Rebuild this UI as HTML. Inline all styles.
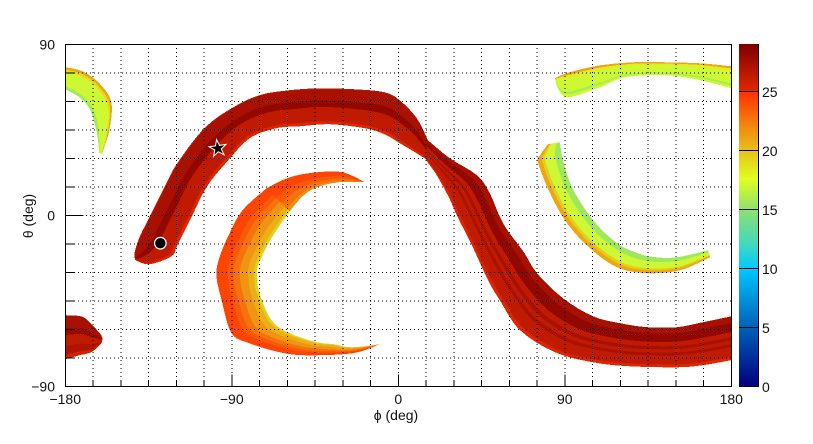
<!DOCTYPE html>
<html lang="en">
<head>
<meta charset="utf-8">
<title>Sky map in phi and theta</title>
<style>
html,body{margin:0;padding:0;background:#fff;}
svg{display:block;font-family:"Liberation Sans",sans-serif;}
text{font-size:14px;fill:#111;}
</style>
</head>
<body>
<svg id="chart" xmlns="http://www.w3.org/2000/svg" width="813" height="444" viewBox="0 0 813 444">
  <rect x="0" y="0" width="813" height="444" fill="#fff"/>
  <defs><clipPath id="plot-clip"><rect x="65" y="44" width="667" height="343"/></clipPath></defs>
  <g id="ribbons" clip-path="url(#plot-clip)" shape-rendering="crispEdges"></g>
  <g id="grid" shape-rendering="crispEdges"></g>
  <g id="markers"></g>
  <g id="axes" shape-rendering="crispEdges"></g>
  <g id="tick-labels"></g>
  <g id="colorbar"></g>
  <text x="396" y="420" text-anchor="middle">ϕ (deg)</text>
  <text transform="translate(33 216) rotate(-90)" text-anchor="middle">θ (deg)</text>
</svg>
<script>
// ---- axis tick values ----
const phiTicks = [-180,-165,-150,-135,-120,-105,-90,-75,-60,-45,-30,-15,0,15,30,45,60,75,90,105,120,135,150,165,180];
const thetaTicks = [-90,-75,-60,-45,-30,-15,0,15,30,45,60,75,90];
const phiLabels = [-180,-90,0,90,180];
const thetaLabels = [-90,0,90];
const scaleLabels = [0,5,10,15,20,25];
const scaleMax = 29;

// ---- colour palette: value stops and colours ----
const paletteValues = [0,5,10,12,15,17.6,20,22,24.99,25,29];
const paletteColors = ['#00007f','#0060b8','#00c8ff','#40d8c0','#8ee070','#e0ff20','#e6c018','#f28a10','#ff3000','#e02800','#7f0000'];

// ---- markers [phi, theta] ----
const circleMarker = [-128.6,-14.7];
const starMarker = [-97.5,35.2];

// ---- bright arc, left half: edges as [phi, theta] and bands across the width ----
const arcUpper = [[-142.7,-21.6],[-142.1,-17.9],[-139.4,-10.5],[-134.5,-1.1],[-126.4,14.7],[-119.4,27.4],[-104.8,45.8],[-90.1,56.3],[-75,63.2],[-58.7,65.8],[-42.5,66.8],[-23.5,66.3],[-7.3,64.7],[0.8,60.5],[10,51.1],[16,39.5]];
const arcLower = [[-142.1,-23.7],[-134.5,-25.8],[-122.6,-21.6],[-119.4,-15.8],[-111.8,-1.1],[-103.7,14.7],[-92.8,27.9],[-80.4,40.5],[-65.8,45.8],[-53.3,46.8],[-37.1,47.9],[-18.1,45.8],[-7.3,42.6],[0.8,37.9],[7.3,34.2],[14.3,30]];
const arcBandStarts = [0,0.04,0.33,0.52,0.92];
const arcBandValues = [26.9,27.3,28.2,26.3,25.1];

// ---- bright arc, right half ----
const tailUpper = [[16,39.5],[27.9,30],[42.5,21.1],[49.5,11.6],[56.6,-4.2],[67.9,-19.5],[75,-30.5],[89.1,-43.7],[105.3,-53.2],[119.9,-56.8],[134.5,-58.9],[150.8,-58.9],[164.8,-56.3],[180,-53.2]];
const tailLower = [[14.3,30],[20.8,21.1],[27.3,9.5],[32.2,-1.1],[40.3,-16.8],[48.5,-34.2],[54.9,-44.7],[65.8,-60.5],[84.7,-72.1],[105.3,-77.4],[125.3,-79.5],[150.8,-80],[164.8,-78.9],[180,-76.3]];
const tailBandStarts = [0,0.15,0.36,0.47,0.55,0.63,0.7,0.93];
const tailBandValues = [27.3,28.2,26.3,27.3,26.3,27.3,26.3,25.1];

// ---- wrapped tail at the left edge ----
const wrapUpper = [[-180,-52.6],[-170.8,-53.4],[-165.4,-57.8],[-160.5,-63.2],[-160,-65.8]];
const wrapLower = [[-180,-75.8],[-172.4,-73.7],[-165.9,-72.1],[-161,-67.9],[-160,-65.8]];
const wrapBandStarts = [0,0.3,0.45,0.7,0.9];
const wrapBandValues = [27.3,28,26.3,27,25.6];

// ---- central crescent, upper part ----
const crescentTopOuter = [[-18.1,17.4],[-30,22.6],[-44.1,22.6],[-58.7,20],[-71.2,14.2]];
const crescentTopInner = [[-18.1,17.4],[-31.7,17.4],[-44.1,14.7],[-51.7,10],[-58.7,2.1]];
const crescentTopBandStarts = [0,0.4,0.65,0.88];
const crescentTopBandValues = [24.3,23.6,22.8,21.8];

// ---- central crescent, lower part ----
const crescentOuter = [[-71.2,14.2],[-84.2,2.6],[-91.2,-9.5],[-96.6,-22.1],[-98.3,-31.6],[-95.5,-44.7],[-90.1,-62.1],[-80.4,-67.4],[-64.2,-72.1],[-49.5,-73.7],[-24.6,-72.6],[-10,-67.9]];
const crescentInner = [[-58.7,2.1],[-66.9,-9.5],[-71.2,-16.8],[-76.1,-27.4],[-76.1,-34.2],[-75,-41.1],[-68.5,-55.3],[-58.7,-62.1],[-44.1,-66.8],[-34.4,-67.9],[-25.2,-69.5],[-10,-67.9]];
const crescentBandStarts = [0,0.28,0.42,0.58,0.78,0.93];
const crescentBandValues = [24.3,23.6,22.8,21.6,20.6,19.3];

// ---- upper right arc ----
const northUpper = [[84.7,72.1],[92.8,75.3],[109.1,78.9],[126.9,80.5],[145.4,80.5],[163.2,80],[180,78.4]];
const northLower = [[85.3,68.9],[91.2,62.1],[109.1,67.4],[122.6,72.6],[144.3,73.7],[163.2,71.1],[180,66.8]];
const northBandStarts = [0,0.1,0.22,0.78,0.88];
const northBandValues = [21,18.3,17,15.9,17];

// ---- right crescent ----
const hookOuter = [[80.9,37.4],[76.6,31.6],[75.5,27.9],[82,11.6],[91.2,-4.2],[103.7,-17.4],[118.3,-27.4],[134.5,-30.5],[152.4,-28.9],[168.6,-22.1]];
const hookInner = [[87.4,38.4],[88,34.2],[89.1,28.9],[93.9,14.7],[105.3,-2.6],[118.3,-14.7],[129.7,-20],[138.9,-22.1],[150.8,-22.1],[167.5,-18.4]];
const hookBandStarts = [0,0.18,0.3,0.72];
const hookBandValues = [20.9,19.5,17,15.6];

// ---- wrapped arc at upper left ----
const wrapNorthUpper = [[-180,77.9],[-170.8,75.8],[-161.6,69.5],[-155.1,59.5],[-156.2,44.7],[-160,32.6]];
const wrapNorthLower = [[-180,66.3],[-172.4,62.1],[-167,56.3],[-164.3,48.9],[-162.7,42.1],[-161.6,32.6]];
const wrapNorthBandStarts = [0,0.1,0.2,0.85];
const wrapNorthBandValues = [21,19,17,15.8];

// ---- scales ----
const xScale = phi => 398.25 + phi * 1.85;
const yScale = theta => 215.25 - theta * 1.9;
const scaleY = v => 386.5 - v * (342 / scaleMax);
const NS = 'http://www.w3.org/2000/svg';

function hexToRgb(h){return [1,3,5].map(i=>parseInt(h.substr(i,2),16));}
function colorFor(v){
  let i = 0;
  while(i < paletteValues.length-2 && v > paletteValues[i+1]) i++;
  const a = paletteValues[i], b = paletteValues[i+1];
  const t = Math.max(0,Math.min(1,(v-a)/(b-a)));
  const c0 = hexToRgb(paletteColors[i]), c1 = hexToRgb(paletteColors[i+1]);
  return 'rgb('+c0.map((c,k)=>Math.round(c+(c1[k]-c)*t)).join(',')+')';
}
function make(tag, attrs, parent){
  const el = document.createElementNS(NS, tag);
  for(const k in attrs) el.setAttribute(k, attrs[k]);
  parent.appendChild(el);
  return el;
}
function curve(pts){
  let d = '';
  for(let i=0;i<pts.length-1;i++){
    const p0=pts[Math.max(0,i-1)],p1=pts[i],p2=pts[i+1],p3=pts[Math.min(pts.length-1,i+2)];
    const c1=[p1[0]+(p2[0]-p0[0])/6,p1[1]+(p2[1]-p0[1])/6];
    const c2=[p2[0]-(p3[0]-p1[0])/6,p2[1]-(p3[1]-p1[1])/6];
    d+=' C'+c1[0].toFixed(1)+' '+c1[1].toFixed(1)+' '+c2[0].toFixed(1)+' '+c2[1].toFixed(1)+' '+p2[0].toFixed(1)+' '+p2[1].toFixed(1);
  }
  return d;
}
function drawRibbon(name, upper, lower, starts, values){
  const g = document.getElementById('ribbons');
  const lowerPx = lower.map(p=>[xScale(p[0]),yScale(p[1])]);
  starts.forEach((f,i)=>{
    const edge = upper.map((p,k)=>[xScale(p[0])+(lowerPx[k][0]-xScale(p[0]))*f, yScale(p[1])+(lowerPx[k][1]-yScale(p[1]))*f]);
    const back = lowerPx.slice().reverse();
    const d = 'M'+edge[0][0].toFixed(1)+' '+edge[0][1].toFixed(1)+curve(edge)+' L'+back[0][0].toFixed(1)+' '+back[0][1].toFixed(1)+curve(back)+' Z';
    const el = make('path',{d:d,fill:colorFor(values[i])},g);
    
    
  });
}
drawRibbon('arc-left', arcUpper, arcLower, arcBandStarts, arcBandValues);
drawRibbon('arc-right', tailUpper, tailLower, tailBandStarts, tailBandValues);
drawRibbon('arc-wrapped-tail', wrapUpper, wrapLower, wrapBandStarts, wrapBandValues);
drawRibbon('central-crescent-top', crescentTopOuter, crescentTopInner, crescentTopBandStarts, crescentTopBandValues);
drawRibbon('central-crescent', crescentOuter, crescentInner, crescentBandStarts, crescentBandValues);
drawRibbon('upper-right-arc', northUpper, northLower, northBandStarts, northBandValues);
drawRibbon('right-crescent', hookOuter, hookInner, hookBandStarts, hookBandValues);
drawRibbon('upper-left-arc', wrapNorthUpper, wrapNorthLower, wrapNorthBandStarts, wrapNorthBandValues);

// grid
const gridG = document.getElementById('grid');
phiTicks.slice(1,-1).forEach(p=>{
  const el = make('line',{x1:xScale(p),x2:xScale(p),y1:44,y2:386,stroke:'#000','stroke-width':1,'stroke-dasharray':'1 3'},gridG);
  
  
});
thetaTicks.slice(1,-1).forEach(t=>{
  const el = make('line',{x1:66,x2:731,y1:yScale(t),y2:yScale(t),stroke:'#000','stroke-width':1,'stroke-dasharray':'1 3'},gridG);
  
  
});

// markers
const markG = document.getElementById('markers');
const circleEl = make('circle',{cx:xScale(circleMarker[0]),cy:yScale(circleMarker[1]),r:5.8,fill:'#000',stroke:'#fff','stroke-width':1.2},markG);


const starPts = [];
for(let i=0;i<10;i++){
  const r = i%2 ? 3.4 : 9;
  const a = (i*36-8-90)*Math.PI/180;
  starPts.push((xScale(starMarker[0])+r*Math.cos(a)).toFixed(1)+','+(yScale(starMarker[1])+r*Math.sin(a)).toFixed(1));
}
const starEl = make('polygon',{points:starPts.join(' '),fill:'#000',stroke:'#fff','stroke-width':1},markG);



// axes, frame, ticks
const axG = document.getElementById('axes');
const frame = make('rect',{x:65.5,y:44.5,width:666,height:342,fill:'none',stroke:'#000','stroke-width':1},axG);


phiTicks.forEach(p=>{
  const len = phiLabels.includes(p) ? 12 : 6;
  const el = make('line',{x1:xScale(p),x2:xScale(p),y1:386.5,y2:386.5-len,stroke:'#000'},axG);
  
  
});
thetaTicks.forEach(t=>{
  const len = thetaLabels.includes(t) ? 18 : 9;
  const el = make('line',{x1:65.5,x2:65.5+len,y1:yScale(t),y2:yScale(t),stroke:'#000'},axG);
  
  
});

// tick labels
const fmt = v => String(v).replace('-','\u2212');
const labG = document.getElementById('tick-labels');
phiLabels.forEach(p=>{
  const el = make('text',{x:xScale(p),y:404,'text-anchor':'middle'},labG);
  el.textContent = fmt(p);
  
  
});
thetaLabels.forEach(t=>{
  const el = make('text',{x:55,y:yScale(t)+5,'text-anchor':'end'},labG);
  el.textContent = fmt(t);
  
  
});

// colour bar
const cbG = document.getElementById('colorbar');
for(let v=0;v<scaleMax;v+=0.1){
  const el = make('rect',{x:739,y:(scaleY(v+0.1)-0.3).toFixed(2),width:20,height:(scaleY(v)-scaleY(v+0.1)+0.3).toFixed(2),fill:colorFor(v+0.05),'shape-rendering':'crispEdges'},cbG);
  
  
}
const cbAxis = make('line',{x1:758.5,x2:758.5,y1:44,y2:387,stroke:'#000','shape-rendering':'crispEdges'},cbG);


scaleLabels.forEach(v=>{
  const tick = make('line',{x1:739,x2:759,y1:Math.floor(scaleY(v))+0.5,y2:Math.floor(scaleY(v))+0.5,stroke:'#000','shape-rendering':'crispEdges'},cbG);
  
  
  const el = make('text',{x:762,y:scaleY(v)+5.5},cbG);
  el.textContent = fmt(v);
  
  
});
</script>
</body>
</html>
